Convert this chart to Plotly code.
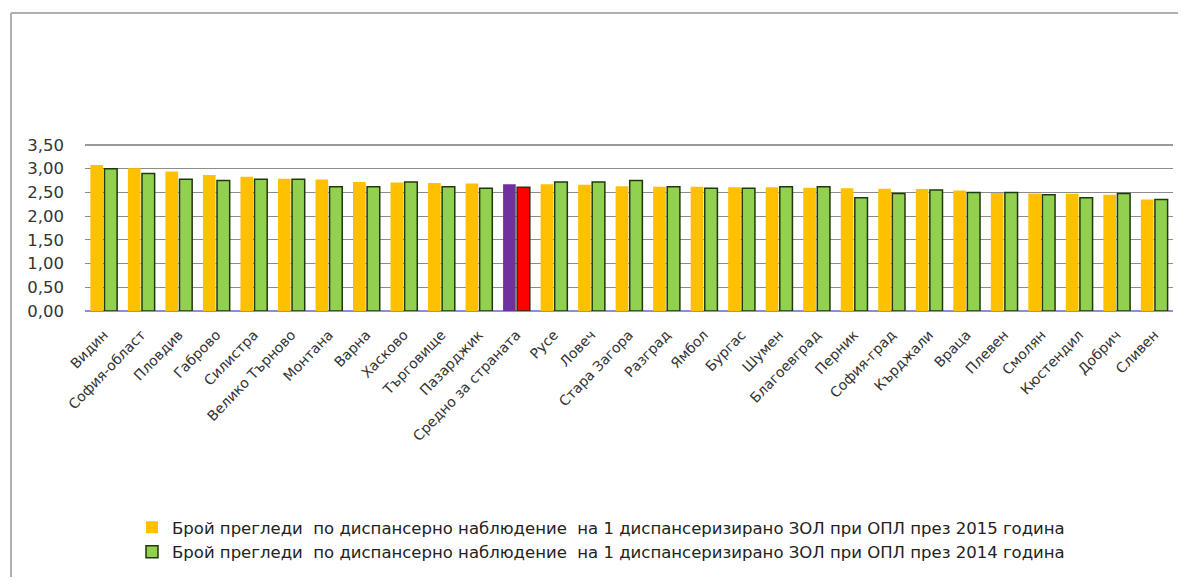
import plotly.graph_objects as go

categories = ["Видин", "София-област", "Пловдив", "Габрово", "Силистра", "Велико Търново",
              "Монтана", "Варна", "Хасково", "Търговище", "Пазарджик", "Средно за страната",
              "Русе", "Ловеч", "Стара Загора", "Разград", "Ямбол", "Бургас", "Шумен",
              "Благоевград", "Перник", "София-град", "Кърджали", "Враца", "Плевен",
              "Смолян", "Кюстендил", "Добрич", "Сливен"]

values_2015 = [3.08, 3.01, 2.94, 2.87, 2.83, 2.79, 2.77, 2.72, 2.71, 2.70, 2.69, 2.67,
               2.67, 2.66, 2.63, 2.62, 2.62, 2.61, 2.61, 2.60, 2.59, 2.58, 2.57, 2.54,
               2.49, 2.48, 2.47, 2.45, 2.35]

values_2014 = [3.00, 2.90, 2.78, 2.75, 2.78, 2.78, 2.62, 2.62, 2.72, 2.62, 2.59, 2.61,
               2.72, 2.72, 2.75, 2.62, 2.59, 2.59, 2.62, 2.62, 2.39, 2.48, 2.55, 2.50,
               2.50, 2.45, 2.39, 2.48, 2.35]

name_2015 = "Брой прегледи  по диспансерно наблюдение  на 1 диспансеризирано ЗОЛ при ОПЛ през 2015 година"
name_2014 = "Брой прегледи  по диспансерно наблюдение  на 1 диспансеризирано ЗОЛ при ОПЛ през 2014 година"

avg_label = "Средно за страната"
col_2015 = ["#7030A0" if c == avg_label else "#FFC000" for c in categories]
col_2014 = ["#FF0000" if c == avg_label else "#92D050" for c in categories]

fig = go.Figure()
fig.add_trace(go.Bar(x=categories, y=values_2015, name=name_2015,
                     marker=dict(color=col_2015, line=dict(width=0))))
fig.add_trace(go.Bar(x=categories, y=values_2014, name=name_2014,
                     marker=dict(color=col_2014, line=dict(color="#1F3A0A", width=1.5))))

# page body has an 8px margin; reference pixel coords are shifted by OFF
OFF = 8
W, H = 1186 - 2 * OFF, 585 - 2 * OFF
L, T = 85 - OFF, 145 - OFF
R = W - (1173 - OFF)
B = H - (311 - OFF)
pw = W - L - R
ph = H - T - B

def px2paper_x(px):
    return (px - OFF - L) / pw

def px2paper_y(py):
    return (H - B - (py - OFF)) / ph

fig.update_layout(
    width=W, height=H,
    margin=dict(l=L, r=R, t=T, b=B, pad=0),
    paper_bgcolor="white", plot_bgcolor="white",
    separators=", ",
    barmode="group", bargap=0.25, bargroupgap=0.1,
    font=dict(family="DejaVu Sans, sans-serif", color="#333333", size=13),
    showlegend=True,
    legend=dict(orientation="v", x=px2paper_x(132), xanchor="left",
                y=px2paper_y(510), yanchor="top",
                font=dict(size=16.5, color="#222222", family="DejaVu Sans, sans-serif"),
                bgcolor="rgba(0,0,0,0)", itemwidth=30),
    xaxis=dict(tickangle=-46, showgrid=False, showline=False, ticks="",
               ticklabelstandoff=12,
               tickfont=dict(size=14, color="#333333"), automargin=False),
    yaxis=dict(range=[0, 3.5], dtick=0.5, tickformat=".2f", showgrid=True,
               gridcolor="#8C8C8C", gridwidth=1, zeroline=True,
               zerolinecolor="#8C8CE0", zerolinewidth=1.5, showline=False,
               ticks="", ticklabelstandoff=20,
               tickfont=dict(size=16.5, color="#333333"), automargin=False),
    shapes=[
        dict(type="line", xref="paper", yref="paper", x0=0, x1=1, y0=1, y1=1,
             line=dict(color="#999999", width=2)),
        dict(type="line", xref="paper", yref="paper",
             x0=px2paper_x(11), x1=px2paper_x(11), y0=px2paper_y(13), y1=px2paper_y(590),
             line=dict(color="#B0B0B0", width=2)),
        dict(type="line", xref="paper", yref="paper",
             x0=px2paper_x(11), x1=px2paper_x(1200), y0=px2paper_y(13), y1=px2paper_y(13),
             line=dict(color="#B0B0B0", width=2)),
    ],
)

fig.write_html("out.html")
